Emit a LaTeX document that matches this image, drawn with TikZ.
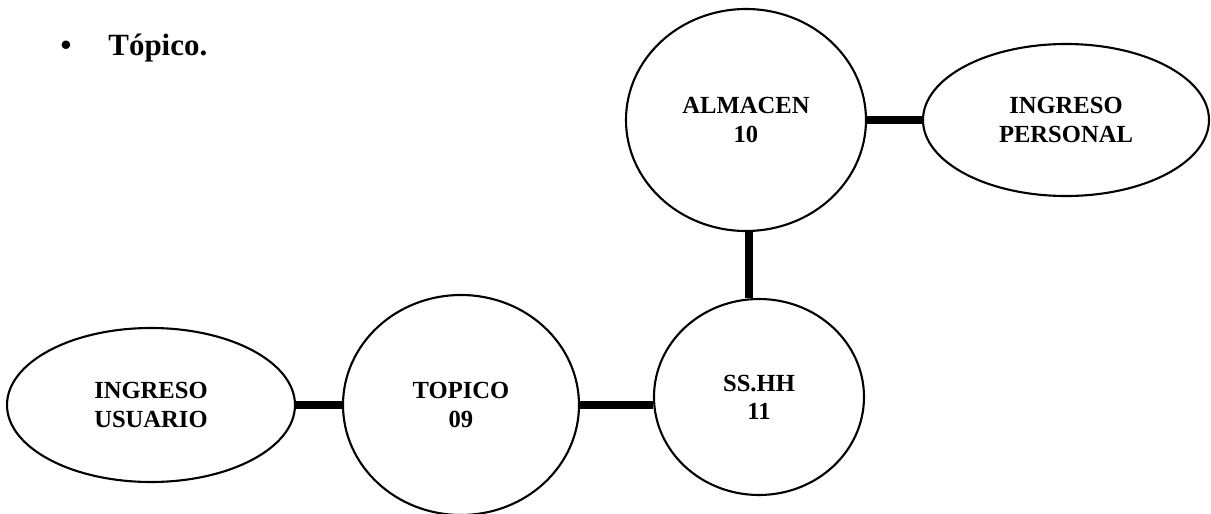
\documentclass[tikz,border=0pt]{standalone}
\usepackage{fontspec}
\setmainfont{Liberation Serif}
\usetikzlibrary{shapes.geometric,positioning}

\begin{document}
\begin{tikzpicture}[
    area/.style={ellipse, draw, line width=0.6pt, inner sep=0pt, align=center, font=\bfseries\fontsize{7}{8}\selectfont},
    link/.style={line width=2.3pt}
]
\useasboundingbox (0,0) rectangle (12.11,5.13);

% Title
\node[anchor=base west, inner sep=0pt, font=\bfseries\fontsize{8.8}{10}\selectfont] (title) at (0.60, 4.58) {\textbullet\hspace{10.5pt}Tópico.};

% Areas
\node[area, minimum width=2.40cm, minimum height=2.22cm] (alm) at (7.46, 3.93) {ALMACEN\\10};
\node[area, minimum width=2.86cm, minimum height=1.52cm] (per) at (10.66, 3.93) {INGRESO\\PERSONAL};
\node[area, minimum width=2.10cm, minimum height=1.96cm] (ss) at (7.59, 1.16) {SS.HH\\11};
\node[area, minimum width=2.36cm, minimum height=2.20cm] (top) at (4.61, 1.08) {TOPICO\\09};
\node[area, minimum width=2.88cm, minimum height=1.54cm] (usr) at (1.51, 1.08) {INGRESO\\USUARIO};

% Links
\draw[link] (alm.east) -- (per.west);
\draw[link] (alm.south -| 7.49,0) -- (ss.north -| 7.49,0);
\draw[link] (top.east) -- (top.east -| ss.west);
\draw[link] (usr.east) -- (usr.east -| top.west);

\end{tikzpicture}
\end{document}
